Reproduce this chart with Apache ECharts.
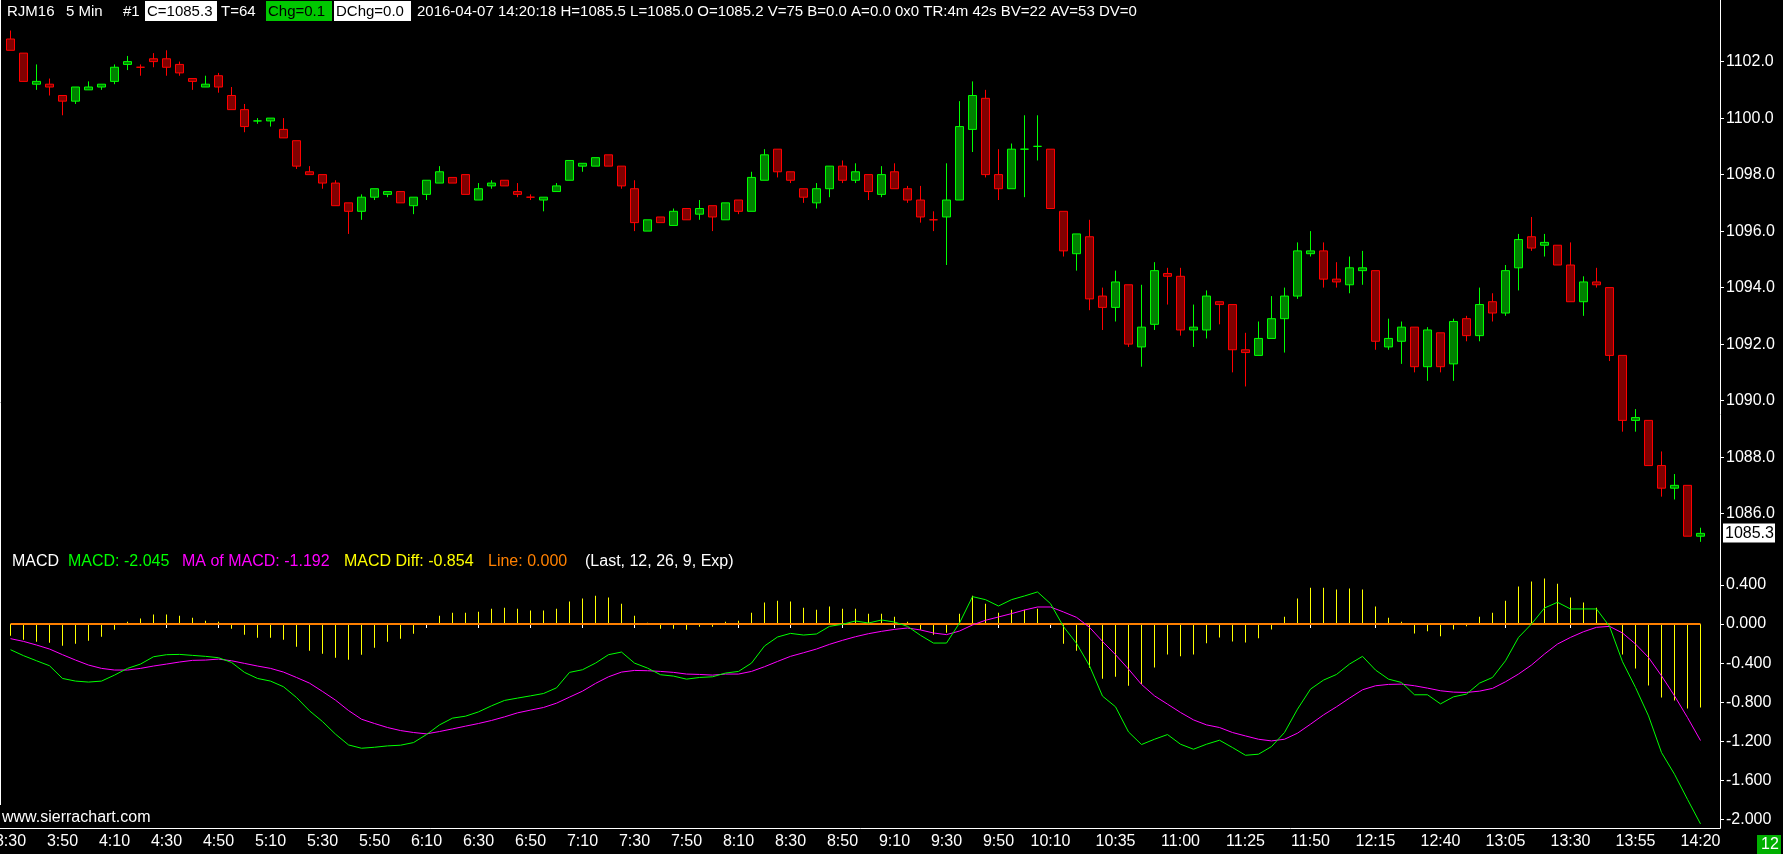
<!DOCTYPE html>
<html>
<head>
<meta charset="utf-8">
<title>RJM16 5 Min</title>
<script src="https://cdn.jsdelivr.net/npm/echarts@6.0.0/dist/echarts.min.js"></script>
<style>
html,body{margin:0;padding:0;background:#000;overflow:hidden;}
#chart{width:1783px;height:854px;}
</style>
</head>
<body>
<div id="chart"></div>
<script>
// ---------------- data ----------------
const symbol = 'RJM16';
const barPeriod = '5 Min';
const firstBarTime = '3:30';
const barMinutes = 5;

const opens = [
 1102.8,1102.3,1101.2,1101.2,1100.8,1100.6,1101.0,1101.1,1101.3,1101.9,
 1101.8,1102.1,1102.1,1101.9,1101.4,1101.1,1101.5,1100.8,1100.3,1099.9,
 1099.9,1099.6,1099.2,1098.1,1098.0,1097.7,1097.0,1096.7,1097.2,1097.3,
 1097.4,1096.9,1097.3,1097.7,1097.9,1098.0,1097.1,1097.6,1097.8,1097.4,
 1097.2,1097.1,1097.4,1097.8,1098.3,1098.3,1098.7,1098.3,1097.5,1096.0,
 1096.5,1096.2,1096.8,1096.6,1096.9,1096.4,1097.1,1096.7,1097.8,1098.9,
 1098.1,1097.5,1097.0,1097.5,1098.3,1097.8,1098.0,1097.3,1098.1,1097.5,
 1097.1,1096.4,1096.5,1097.1,1099.6,1100.7,1098.0,1097.5,1098.9,1099.0,
 1098.9,1096.7,1095.2,1095.8,1093.7,1093.3,1094.1,1091.9,1092.7,1094.5,
 1094.4,1092.5,1092.5,1093.5,1093.4,1091.8,1091.6,1092.2,1092.9,1093.7,
 1095.2,1095.3,1094.3,1094.1,1094.6,1094.6,1091.9,1092.1,1092.6,1091.2,
 1092.4,1091.3,1092.9,1092.3,1093.5,1093.1,1094.7,1095.8,1095.5,1095.5,
 1094.8,1093.5,1094.2,1094.0,1091.6,1089.3,1089.3,1087.7,1086.9,1087.0,
 1085.2
];
const closes = [
 1102.4,1101.3,1101.3,1101.1,1100.6,1101.1,1101.1,1101.2,1101.8,1102.0,
 1101.8,1102.0,1101.8,1101.6,1101.3,1101.2,1101.1,1100.3,1099.7,1099.9,
 1100.0,1099.3,1098.3,1098.0,1097.7,1096.9,1096.7,1097.2,1097.5,1097.4,
 1097.0,1097.2,1097.8,1098.1,1097.7,1097.3,1097.5,1097.7,1097.6,1097.3,
 1097.2,1097.2,1097.6,1098.5,1098.4,1098.6,1098.3,1097.6,1096.3,1096.4,
 1096.3,1096.7,1096.4,1096.8,1096.5,1097.0,1096.7,1097.9,1098.7,1098.1,
 1097.8,1097.2,1097.5,1098.3,1097.8,1098.1,1097.4,1098.0,1097.5,1097.1,
 1096.5,1096.4,1097.1,1099.7,1100.8,1098.0,1097.5,1098.9,1098.9,1099.0,
 1096.8,1095.3,1095.9,1093.6,1093.3,1094.2,1092.0,1092.6,1094.6,1094.4,
 1092.5,1092.6,1093.7,1093.4,1091.8,1091.7,1092.2,1092.9,1093.7,1095.3,
 1095.3,1094.3,1094.2,1094.7,1094.7,1092.1,1092.2,1092.6,1091.2,1092.5,
 1091.2,1092.8,1092.3,1093.4,1093.1,1094.6,1095.7,1095.4,1095.6,1094.8,
 1093.5,1094.2,1094.1,1091.6,1089.3,1089.4,1087.7,1086.9,1087.0,1085.2,
 1085.3
];
const lows = [
 1102.4,1101.3,1101.0,1100.8,1100.1,1100.5,1101.0,1101.0,1101.2,1101.7,
 1101.5,1101.8,1101.5,1101.5,1101.0,1101.1,1100.9,1100.3,1099.5,1099.8,
 1099.7,1099.3,1098.2,1098.0,1097.5,1096.9,1095.9,1096.4,1097.1,1097.2,
 1097.0,1096.6,1097.1,1097.7,1097.7,1097.3,1097.1,1097.5,1097.6,1097.2,
 1097.1,1096.7,1097.4,1097.8,1098.1,1098.3,1098.3,1097.5,1096.0,1096.0,
 1096.3,1096.2,1096.4,1096.4,1096.0,1096.4,1096.6,1096.7,1097.8,1097.9,
 1097.7,1097.0,1096.8,1097.2,1097.7,1097.7,1097.1,1097.2,1097.5,1097.0,
 1096.3,1096.0,1094.8,1097.1,1098.8,1097.9,1097.1,1097.5,1097.2,1098.5,
 1096.8,1095.1,1094.6,1093.2,1092.5,1092.8,1091.9,1091.2,1092.5,1093.4,
 1092.3,1091.9,1092.2,1092.7,1091.0,1090.5,1091.6,1092.2,1091.7,1093.6,
 1095.1,1094.0,1094.0,1093.8,1094.1,1091.8,1091.8,1091.3,1091.0,1090.7,
 1091.0,1090.7,1092.1,1092.1,1092.8,1093.0,1093.9,1095.3,1095.1,1094.8,
 1093.5,1093.0,1094.0,1091.4,1088.9,1088.9,1087.7,1086.6,1086.5,1085.2,
 1085.0
];
const highs = [
 1103.1,1102.3,1101.9,1101.4,1100.8,1101.1,1101.3,1101.2,1101.9,1102.2,
 1101.9,1102.3,1102.4,1102.0,1101.4,1101.5,1101.6,1101.1,1100.5,1100.0,
 1100.0,1100.0,1099.2,1098.3,1098.0,1097.8,1097.0,1097.3,1097.5,1097.4,
 1097.4,1097.2,1097.8,1098.3,1097.9,1098.0,1097.7,1097.8,1097.8,1097.7,
 1097.3,1097.2,1097.7,1098.5,1098.4,1098.6,1098.7,1098.3,1097.8,1096.4,
 1096.5,1096.8,1096.8,1097.1,1096.9,1097.0,1097.1,1098.1,1098.9,1098.9,
 1098.1,1097.5,1097.7,1098.3,1098.5,1098.4,1098.0,1098.3,1098.4,1097.6,
 1097.6,1096.7,1098.4,1100.6,1101.3,1101.0,1098.9,1099.1,1100.1,1100.1,
 1098.9,1096.7,1095.9,1096.4,1094.0,1094.6,1094.1,1094.1,1094.9,1094.7,
 1094.7,1093.4,1093.9,1093.5,1093.4,1092.4,1092.8,1093.7,1094.0,1095.6,
 1096.0,1095.6,1094.9,1095.1,1095.3,1094.6,1092.9,1092.8,1092.6,1092.6,
 1092.4,1092.9,1093.0,1094.0,1093.8,1094.8,1095.9,1096.5,1095.9,1095.5,
 1095.6,1094.4,1094.7,1094.0,1091.6,1089.7,1089.3,1088.2,1087.4,1087.0,
 1085.5
];

// MACD (12, 26, 9, Exp)
const macd = [
 -0.263,-0.324,-0.376,-0.427,-0.557,-0.584,-0.594,-0.584,-0.523,-0.454,
 -0.410,-0.335,-0.314,-0.311,-0.321,-0.331,-0.345,-0.393,-0.495,-0.557,
 -0.584,-0.642,-0.752,-0.888,-0.998,-1.127,-1.237,-1.271,-1.261,-1.247,
 -1.240,-1.213,-1.131,-1.032,-0.963,-0.943,-0.899,-0.837,-0.782,-0.758,
 -0.735,-0.711,-0.653,-0.495,
 -0.468,-0.400,-0.314,-0.287,-0.400,-0.451,-0.519,-0.533,-0.564,-0.547,
 -0.540,-0.502,-0.485,-0.400,-0.225,-0.133,-0.096,-0.113,-0.102,-0.024,
 -0.003,0.031,0.010,0.041,0.020,-0.024,-0.116,-0.195,-0.195,0.010,
 0.280,0.249,0.184,0.249,0.287,0.328,0.208,-0.027,-0.198,-0.427,
 -0.738,-0.847,-1.104,-1.233,
 -1.179,-1.131,-1.230,-1.281,-1.230,-1.189,-1.264,-1.343,-1.332,-1.254,
 -1.110,-0.871,-0.666,-0.574,-0.516,-0.410,-0.331,-0.471,-0.564,-0.598,
 -0.724,-0.724,-0.817,-0.745,-0.717,-0.605,-0.547,-0.376,-0.137,0.000,
 0.164,0.222,0.154,0.154,0.154,-0.024,-0.386,-0.649,-0.940,-1.315,
 -1.537,-1.794,-2.045
];
const macdMA = [
 -0.150,-0.178,-0.215,-0.256,-0.314,-0.369,-0.420,-0.454,-0.471,-0.471,
 -0.454,-0.430,-0.410,-0.389,-0.372,-0.369,-0.359,-0.376,-0.403,-0.430,
 -0.454,-0.492,-0.547,-0.605,-0.690,-0.779,-0.885,-0.974,-1.018,-1.059,
 -1.090,-1.110,-1.124,-1.100,-1.073,-1.045,-1.018,-0.987,-0.950,-0.909,
 -0.881,-0.854,-0.810,-0.748,
 -0.687,-0.608,-0.540,-0.492,-0.475,-0.478,-0.485,-0.495,-0.512,-0.516,
 -0.523,-0.512,-0.512,-0.485,-0.437,-0.383,-0.331,-0.294,-0.256,-0.208,
 -0.167,-0.130,-0.099,-0.075,-0.055,-0.041,-0.061,-0.092,-0.109,-0.072,
 -0.010,0.038,0.072,0.106,0.143,0.174,0.174,0.123,0.068,-0.034,
 -0.178,-0.314,-0.461,-0.618,
 -0.735,-0.820,-0.905,-0.981,-1.032,-1.059,-1.110,-1.145,-1.179,-1.196,
 -1.179,-1.117,-1.025,-0.930,-0.847,-0.758,-0.673,-0.632,-0.618,-0.615,
 -0.632,-0.656,-0.683,-0.697,-0.700,-0.687,-0.659,-0.591,-0.512,-0.420,
 -0.307,-0.205,-0.137,-0.079,-0.034,-0.024,-0.092,-0.205,-0.342,-0.530,
 -0.735,-0.957,-1.192
];
const macdDiff = [
 -0.120,-0.161,-0.181,-0.191,-0.222,-0.202,-0.171,-0.130,-0.058,0.024,
 0.055,0.096,0.096,0.085,0.065,0.034,0.024,-0.048,-0.109,-0.140,
 -0.140,-0.161,-0.232,-0.273,-0.304,-0.345,-0.366,-0.314,-0.243,-0.181,
 -0.150,-0.099,-0.007,0.085,0.116,0.116,0.126,0.157,0.167,0.157,
 0.137,0.137,0.157,0.229,
 0.260,0.290,0.270,0.208,0.085,0.014,-0.048,-0.048,-0.058,-0.027,
 -0.027,0.024,0.034,0.116,0.219,0.239,0.229,0.167,0.147,0.178,
 0.157,0.157,0.106,0.106,0.075,0.024,-0.058,-0.109,-0.089,0.106,
 0.290,0.208,0.116,0.147,0.147,0.157,0.010,-0.202,-0.273,-0.448,
 -0.560,-0.540,-0.632,-0.615,
 -0.444,-0.311,-0.331,-0.311,-0.198,-0.137,-0.178,-0.188,-0.147,-0.055,
 0.075,0.260,0.372,0.372,0.352,0.362,0.352,0.178,0.065,0.024,
 -0.096,-0.075,-0.126,-0.055,-0.024,0.075,0.116,0.239,0.383,0.434,
 0.465,0.413,0.270,0.219,0.167,-0.005,-0.311,-0.454,-0.629,-0.752,
 -0.782,-0.864,-0.854
];
const macdLineLevel = 0;

const timeLabels = ['3:30','3:50','4:10','4:30','4:50','5:10','5:30','5:50','6:10','6:30',
 '6:50','7:10','7:30','7:50','8:10','8:30','8:50','9:10','9:30','9:50','10:10',
 '10:35','11:00','11:25','11:50','12:15','12:40','13:05','13:30','13:55','14:20'];
const priceTicks = [1086,1088,1090,1092,1094,1096,1098,1100,1102];
const macdTicks = [0.4,0,-0.4,-0.8,-1.2,-1.6,-2.0];

const headerDate = '2016-04-07 14:20:18';
const headerMisc = ['T=64', 'V=75', 'B=0.0', 'A=0.0', '0x0', 'TR:4m 42s', 'BV=22', 'AV=53', 'DV=0'];
const chartNumber = '#1';
const countdown = '12';
const siteText = 'www.sierrachart.com';

// ---------------- build ----------------
const n = closes.length;
const [h0, m0] = firstBarTime.split(':').map(Number);
const categories = [];
for (let i = 0; i < n; i++) {
  const t = h0 * 60 + m0 + i * barMinutes;
  categories.push(Math.floor(t / 60) + ':' + String(t % 60).padStart(2, '0'));
}
categories.push(''); // empty right margin slot

const candleData = opens.map((o, i) => [o, closes[i], lows[i], highs[i]]);
const zeroLine = macd.map(() => macdLineLevel);
const last = n - 1;

const FONT = '"Liberation Sans", Arial, sans-serif';
const SLOT = 13;
const GRID_LEFT = 4;
const GRID_W = SLOT * categories.length;
const AXIS_X = GRID_LEFT + GRID_W;       // right axis line
const BOTTOM_Y = 828.5;

const showLabel = (idx, val) => timeLabels.indexOf(val) >= 0;

function txt(x, y, text, fill, size) {
  return {
    type: 'text', x: x, y: y, silent: true, z: 100,
    style: {
      text: text, fill: fill, fontSize: size || 16, fontFamily: FONT,
      align: 'left', verticalAlign: 'middle', textAlign: 'left', textVerticalAlign: 'middle'
    }
  };
}
function rect(x, y, w, h, fill) {
  return { type: 'rect', silent: true, z: 99, shape: { x: x, y: y, width: w, height: h }, style: { fill: fill } };
}
function vline(x, y1, y2) {
  return { type: 'line', silent: true, z: 98, shape: { x1: x, y1: y1, x2: x, y2: y2 }, style: { stroke: '#ffffff', lineWidth: 1 } };
}
function hline(y, x1, x2) {
  return { type: 'line', silent: true, z: 98, shape: { x1: x1, y1: y, x2: x2, y2: y }, style: { stroke: '#ffffff', lineWidth: 1 } };
}

const chg = (closes[last] - closes[last - 1]).toFixed(1);
const longHeader = headerDate +
  ' H=' + highs[last].toFixed(1) + ' L=' + lows[last].toFixed(1) + ' O=' + opens[last].toFixed(1) +
  ' ' + headerMisc.slice(1).join(' ');

const HY = 11.5;
const graphics = [
  vline(0.5, 0, 805),
  vline(AXIS_X + 0.5, 0, BOTTOM_Y),
  hline(BOTTOM_Y, 0, AXIS_X + 0.5),
  // header
  txt(7, HY, symbol, '#ffffff', 15),
  txt(66, HY, barPeriod, '#ffffff', 15),
  txt(123, HY, chartNumber, '#ffffff', 15),
  rect(145, 1, 72, 20, '#ffffff'),
  txt(147, HY, 'C=' + closes[last].toFixed(1), '#000000', 15),
  txt(221, HY, headerMisc[0], '#ffffff', 15),
  rect(266, 1, 66, 20, '#00c800'),
  txt(268, HY, 'Chg=' + chg, '#000000', 15),
  rect(334, 1, 77, 20, '#ffffff'),
  txt(336, HY, 'DChg=0.0', '#000000', 15),
  txt(417, HY, longHeader, '#ffffff', 15),
  // MACD header
  txt(12, 562, 'MACD', '#ffffff', 16),
  txt(68, 562, 'MACD: ' + macd[last].toFixed(3), '#00ff00', 16),
  txt(182, 562, 'MA of MACD: ' + macdMA[last].toFixed(3), '#ff00ff', 16),
  txt(344, 562, 'MACD Diff: ' + macdDiff[last].toFixed(3), '#ffff00', 16),
  txt(488, 562, 'Line: ' + macdLineLevel.toFixed(3), '#ff8000', 16),
  txt(585, 562, '(Last, 12, 26, 9, Exp)', '#ffffff', 16),
  // footer
  txt(2, 818, siteText, '#ffffff', 16),
  rect(1757, 835, 24, 19, '#00b000'),
  txt(1761, 845, countdown, '#ffffff', 16)
];

const chart = echarts.init(document.getElementById('chart'), null, { renderer: 'canvas' });
chart.setOption({
  backgroundColor: '#000000',
  animation: false,
  tooltip: { show: false },
  grid: [
    { left: GRID_LEFT, top: 5.1, width: GRID_W, height: 565, containLabel: false, outerBoundsMode: 'none' },
    { left: GRID_LEFT, top: 545.8, width: GRID_W, height: 273.7, containLabel: false, outerBoundsMode: 'none' }
  ],
  xAxis: [
    { type: 'category', gridIndex: 0, data: categories, boundaryGap: true, show: false },
    {
      type: 'category', gridIndex: 1, data: categories, boundaryGap: true, offset: 9,
      axisLine: { show: false },
      axisTick: { show: true, interval: showLabel, alignWithLabel: true, length: 4, lineStyle: { color: '#ffffff', width: 1 } },
      axisLabel: { show: true, interval: showLabel, color: '#ffffff', fontSize: 16, fontFamily: FONT, margin: 5 },
      splitLine: { show: false }
    }
  ],
  yAxis: [
    {
      type: 'value', gridIndex: 0, position: 'right', min: 1084, max: 1104, interval: 2,
      axisLine: { show: false },
      axisTick: { show: true, length: 4, inside: false, customValues: priceTicks, lineStyle: { color: '#ffffff' } },
      axisLabel: {
        show: true, customValues: priceTicks, color: '#ffffff', fontSize: 16, fontFamily: FONT, margin: 6,
        formatter: v => (priceTicks.indexOf(v) >= 0 ? v.toFixed(1) : '')
      },
      splitLine: { show: false }
    },
    {
      type: 'value', gridIndex: 1, position: 'right', min: -2.0, max: 0.8, interval: 0.4,
      axisLine: { show: false },
      axisTick: { show: true, length: 4, customValues: macdTicks, lineStyle: { color: '#ffffff' } },
      axisLabel: {
        show: true, customValues: macdTicks, color: '#ffffff', fontSize: 16, fontFamily: FONT, margin: 6,
        formatter: v => (macdTicks.some(t => Math.abs(t - v) < 1e-6) ? (Math.abs(v) < 1e-9 ? 0 : v).toFixed(3) : '')
      },
      splitLine: { show: false }
    }
  ],
  series: [
    {
      name: symbol, type: 'candlestick', xAxisIndex: 0, yAxisIndex: 0, silent: true,
      data: candleData, barWidth: 8,
      itemStyle: { color: '#008000', color0: '#800000', borderColor: '#00ff00', borderColor0: '#ff0000', borderWidth: 1 }
    },
    {
      name: 'MACD Diff', type: 'bar', xAxisIndex: 1, yAxisIndex: 1, silent: true,
      data: macdDiff, barWidth: 1, itemStyle: { color: '#ffff00' }
    },
    {
      name: 'Line', type: 'line', xAxisIndex: 1, yAxisIndex: 1, silent: true,
      data: zeroLine, showSymbol: false, symbol: 'none',
      lineStyle: { color: '#ff8000', width: 2 }
    },
    {
      name: 'MA of MACD', type: 'line', xAxisIndex: 1, yAxisIndex: 1, silent: true, clip: false,
      data: macdMA, showSymbol: false, symbol: 'none',
      lineStyle: { color: '#ff00ff', width: 1 }
    },
    {
      name: 'MACD', type: 'line', xAxisIndex: 1, yAxisIndex: 1, silent: true, clip: false,
      data: macd, showSymbol: false, symbol: 'none',
      lineStyle: { color: '#00ff00', width: 1 }
    }
  ],
  graphic: { elements: graphics }
});

// last-price box on the price axis, placed through the price scale
const lastY = chart.convertToPixel({ yAxisIndex: 0 }, closes[last]);
const priceBox = [
  rect(AXIS_X + 3, Math.round(lastY) - 9.5, 52, 19, '#ffffff'),
  txt(AXIS_X + 5, Math.round(lastY) + 0.5, closes[last].toFixed(1), '#000000', 16)
];
chart.setOption({ graphic: { elements: graphics.concat(priceBox) } });
</script>
</body>
</html>
